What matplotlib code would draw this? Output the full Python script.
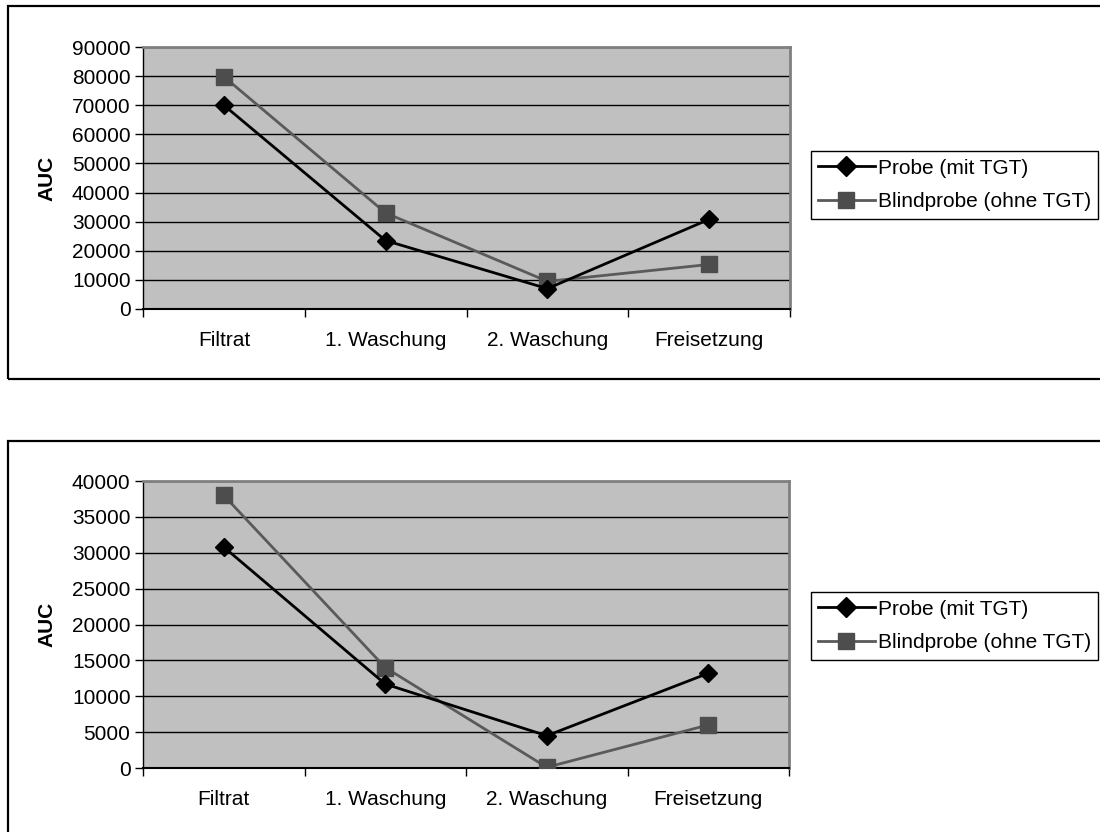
import matplotlib.pyplot as plt
from matplotlib.patches import Rectangle

plt.rcParams['font.family'] = ['Liberation Sans', 'DejaVu Sans']

# Messreihen (AUC je Schritt)
schritte = ["Filtrat", "1. Waschung", "2. Waschung", "Freisetzung"]
probe_oben = [70000, 23500, 7000, 30800]
blind_oben = [79800, 33000, 9500, 15300]
probe_unten = [30800, 11700, 4500, 13200]
blind_unten = [38000, 14000, 100, 6000]

ymax_oben, ystep_oben = 90000, 10000
ymax_unten, ystep_unten = 40000, 5000

fig = plt.figure(figsize=(11, 8.32), dpi=100)

# Rahmen um die beiden Diagramme
fig.patches.append(Rectangle((8 / 1100, 1 - 379 / 832), 1.2, 373 / 832, transform=fig.transFigure,
                             fill=False, edgecolor="black", linewidth=1.6))
fig.patches.append(Rectangle((8 / 1100, -0.2), 1.2, 0.2 + 391 / 832, transform=fig.transFigure,
                             fill=False, edgecolor="black", linewidth=1.6))


def zeichne(ax, probe, blind, ymax, ystep, leg_y):
    x = range(len(schritte))
    ax.set_facecolor("#C0C0C0")
    ax.plot(x, probe, color="black", marker="D", markersize=9, linewidth=2,
            label="Probe (mit TGT)", zorder=4)
    ax.plot(x, blind, color="#5a5a5a", marker="s", markersize=11, linewidth=2,
            markerfacecolor="#4d4d4d", markeredgecolor="#4d4d4d",
            label="Blindprobe (ohne TGT)", zorder=3)
    ax.set_xlim(-0.5, 3.5)
    ax.set_ylim(0, ymax)
    ax.set_yticks(range(0, ymax + 1, ystep))
    ax.yaxis.grid(True, color="black", linewidth=1)
    ax.set_axisbelow(True)
    ax.set_xticks([-0.5, 0.5, 1.5, 2.5, 3.5])
    ax.set_xticklabels([])
    ax.set_xticks(list(x), minor=True)
    ax.set_xticklabels(schritte, minor=True)
    ax.tick_params(axis="x", which="major", direction="out", length=6, width=1)
    ax.tick_params(axis="x", which="minor", length=0, pad=16, labelsize=15)
    ax.tick_params(axis="y", direction="out", length=6, width=1, labelsize=15, pad=3)
    for s in ("top", "right"):
        ax.spines[s].set_color("#808080")
        ax.spines[s].set_linewidth(2)
    ax.spines["left"].set_linewidth(1)
    ax.spines["bottom"].set_linewidth(1.5)
    ax.set_ylabel("AUC", fontsize=15, fontweight="bold", labelpad=11)
    ax.legend(loc="center left", bbox_to_anchor=(811 / 1100, leg_y), bbox_transform=fig.transFigure,
              fontsize=15, frameon=True, fancybox=False, edgecolor="black", framealpha=1,
              handlelength=2.7, handletextpad=0.15, borderpad=0.35, labelspacing=0.7,
              borderaxespad=0, markerscale=1.1)


ax1 = fig.add_axes([143 / 1100, 1 - 309 / 832, 647 / 1100, 262 / 832])
zeichne(ax1, probe_oben, blind_oben, ymax_oben, ystep_oben, 1 - 185 / 832)

ax2 = fig.add_axes([143 / 1100, 1 - 768 / 832, 646 / 1100, 287 / 832])
zeichne(ax2, probe_unten, blind_unten, ymax_unten, ystep_unten, 1 - 626 / 832)

fig.savefig("out.png", dpi=100)
